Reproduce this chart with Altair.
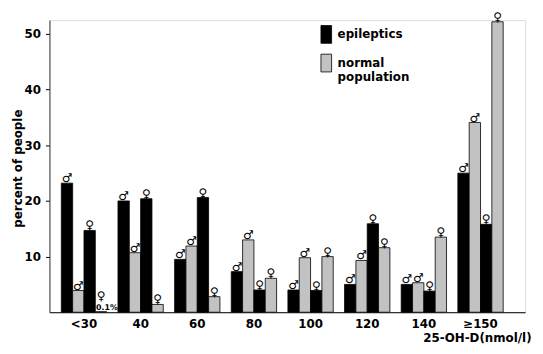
import altair as alt
import pandas as pd

groups = ["<30", "40", "60", "80", "100", "120", "140", "≥150"]
epi_male = [23.2, 20.0, 9.5, 7.3, 4.0, 5.0, 5.0, 25.0]
norm_male = [3.9, 10.7, 11.9, 13.0, 9.8, 9.3, 5.3, 34.1]
epi_female = [14.7, 20.4, 20.6, 4.0, 3.9, 15.9, 3.8, 15.8]
norm_female = [0.1, 1.4, 2.8, 6.1, 10.0, 11.6, 13.5, 52.2]
norm_female_notes = ["0.1%", "", "", "", "", "", "", ""]

series_keys = ["a", "b", "c", "d"]
series_pop = ["epileptics", "normal population", "epileptics", "normal population"]
series_sex = ["♂", "♂", "♀", "♀"]
series_vals = [epi_male, norm_male, epi_female, norm_female]
series_notes = [[""] * 8, [""] * 8, [""] * 8, norm_female_notes]

rows = []
for k, p, s, vals, notes in zip(series_keys, series_pop, series_sex, series_vals, series_notes):
    for g, v, n in zip(groups, vals, notes):
        rows.append({"group": g, "key": k, "pop": p, "sex": s, "value": v, "note": n})
df = pd.DataFrame(rows)

FONT = "DejaVu Sans"

base = alt.Chart(df).encode(
    x=alt.X(
        "group:N",
        sort=groups,
        scale=alt.Scale(paddingInner=0.2, paddingOuter=0.2986, align=0.351),
        axis=alt.Axis(
            title="25-OH-D(nmol/l)",
            labelAngle=0,
            ticks=False,
            tickSize=0,
            labelPadding=6,
            labelFont=FONT,
            labelFontSize=12,
            labelFontWeight="bold",
            labelColor="black",
            domainColor="black",
            domainWidth=1,
            titleX=488,
            titleY=30,
            titleAlign="right",
            titleAnchor="end",
            titleBaseline="alphabetic",
            titleFont=FONT,
            titleFontSize=12,
            titleFontWeight="bold",
            titleColor="black",
        ),
    ),
    xOffset=alt.XOffset("key:N", sort=series_keys,
                        scale=alt.Scale(paddingInner=0, paddingOuter=0)),
    y=alt.Y(
        "value:Q",
        scale=alt.Scale(domain=[0, 52.5], nice=False),
        axis=alt.Axis(
            title="percent of people",
            values=[10, 20, 30, 40, 50],
            grid=False,
            tickSize=4,
            tickColor="black",
            labelPadding=5,
            labelFont=FONT,
            labelFontSize=12,
            labelFontWeight="bold",
            labelColor="black",
            domainColor="#333333",
            domainWidth=1,
            titleX=-32,
            titleY=150,
            titleAlign="center",
            titleBaseline="middle",
            titleFont=FONT,
            titleFontSize=12,
            titleFontWeight="bold",
            titleColor="black",
        ),
    ),
)

bars = base.mark_bar(stroke="black", strokeWidth=0.8).encode(
    color=alt.Color(
        "pop:N",
        scale=alt.Scale(domain=["epileptics", "normal population"],
                        range=["#000000", "#c2c2c2"]),
        legend=alt.Legend(
            title=None,
            orient="none",
            legendX=271,
            legendY=5,
            padding=0,
            symbolType="M-0.6,-1H0.6V1H-0.6Z",
            symbolSize=324,
            symbolStrokeColor="black",
            symbolStrokeWidth=0.8,
            labelFont=FONT,
            labelFontSize=12,
            labelFontWeight="bold",
            labelColor="black",
            labelOffset=2,
            rowPadding=6,
            labelExpr="datum.label == 'normal population' ? ['normal', 'population'] : datum.label",
        ),
    )
)

syms = base.mark_text(baseline="alphabetic", dy=-1, fontSize=12, font=FONT,
                      color="black").encode(text="sex:N").transform_filter("datum.note == ''")
syms_noted = base.mark_text(baseline="alphabetic", dy=-12, fontSize=12, font=FONT,
                            color="black").encode(text="sex:N").transform_filter("datum.note != ''")
notes = base.mark_text(baseline="alphabetic", align="left", dx=-5, dy=-2, fontSize=8, font=FONT,
                       fontWeight="bold", color="black").encode(text="note:N").transform_filter("datum.note != ''")

chart = alt.layer(bars, syms, syms_noted, notes).properties(
    width=482,
    height=296,
    autosize=alt.AutoSizeParams(type="none"),
    padding={"left": 42, "top": 10, "right": 10, "bottom": 36},
).configure_view(stroke=None).configure(background="white")

chart.save("out.html", embed_options={"renderer": "svg", "actions": False})
